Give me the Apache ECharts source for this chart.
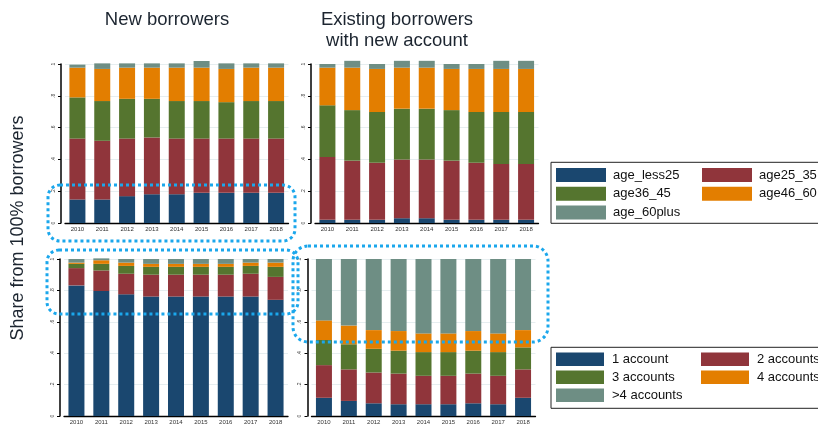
<!DOCTYPE html>
<html>
<head>
<meta charset="utf-8">
<script src="https://cdn.jsdelivr.net/npm/echarts@6/dist/echarts.min.js"></script>
<style>
html,body{margin:0;padding:0;background:#fff;}
#chart{width:818px;height:425px;}
</style>
</head>
<body>
<div id="chart"></div>
<script>
// ---------- data ----------
const years = ['2010','2011','2012','2013','2014','2015','2016','2017','2018'];
const yTickLabels = ['0', '.2', '.4', '.6', '.8', '1'];

const ageNames = ['age_less25','age25_35','age36_45','age46_60','age_60plus'];
const accNames = ['1 account','2 accounts','3 accounts','4 accounts','>4 accounts'];

// New borrowers, by age
const newAgeLess25 = [0.148,0.148,0.169,0.181,0.181,0.190,0.190,0.190,0.190];
const newAge25_35  = [0.383,0.369,0.362,0.357,0.350,0.341,0.341,0.341,0.341];
const newAge36_45  = [0.259,0.250,0.250,0.243,0.236,0.236,0.229,0.236,0.236];
const newAge46_60  = [0.187,0.202,0.196,0.196,0.210,0.210,0.209,0.210,0.210];
const newAge60plus = [0.019,0.035,0.027,0.027,0.027,0.042,0.035,0.027,0.027];

// Existing borrowers with new account, by age
const exAgeLess25 = [0.020,0.020,0.020,0.030,0.030,0.020,0.020,0.020,0.020];
const exAge25_35  = [0.395,0.372,0.359,0.370,0.370,0.372,0.359,0.351,0.351];
const exAge36_45  = [0.325,0.318,0.319,0.319,0.319,0.318,0.319,0.327,0.327];
const exAge46_60  = [0.237,0.267,0.271,0.258,0.258,0.259,0.271,0.271,0.271];
const exAge60plus = [0.023,0.043,0.031,0.043,0.043,0.031,0.031,0.051,0.051];

// New borrowers, by number of accounts
const newAcc1     = [0.832,0.796,0.775,0.761,0.761,0.761,0.761,0.761,0.740];
const newAcc2     = [0.110,0.131,0.131,0.139,0.139,0.139,0.139,0.145,0.146];
const newAcc3     = [0.027,0.042,0.050,0.050,0.050,0.050,0.050,0.050,0.064];
const newAcc4     = [0.008,0.023,0.021,0.019,0.019,0.019,0.019,0.021,0.027];
const newAccMore4 = [0.023,0.012,0.023,0.031,0.031,0.031,0.031,0.023,0.023];

// Existing borrowers with new account, by number of accounts
const exAcc1     = [0.116,0.096,0.081,0.075,0.075,0.075,0.081,0.075,0.116];
const exAcc2     = [0.208,0.201,0.196,0.195,0.181,0.181,0.189,0.181,0.181];
const exAcc3     = [0.160,0.160,0.151,0.146,0.151,0.151,0.146,0.151,0.140];
const exAcc4     = [0.125,0.119,0.119,0.125,0.119,0.119,0.125,0.119,0.110];
const exAccMore4 = [0.391,0.424,0.453,0.459,0.474,0.474,0.459,0.474,0.453];

// ---------- styling ----------
const colors = ['#1a476f','#90353b','#55752f','#e37e00','#6e8e84'];
const FONT = "'Liberation Sans', Arial, sans-serif";

const panels = [
  {left:65,  width:223.5, top:64,  height:159, names:ageNames, data:[newAgeLess25,newAge25_35,newAge36_45,newAge46_60,newAge60plus]},
  {left:315, width:223.5, top:64,  height:159, names:ageNames, data:[exAgeLess25,exAge25_35,exAge36_45,exAge46_60,exAge60plus]},
  {left:64,  width:224,   top:259, height:160, names:accNames, data:[newAcc1,newAcc2,newAcc3,newAcc4,newAccMore4]},
  {left:311.5,width:224,  top:259, height:160, names:accNames, data:[exAcc1,exAcc2,exAcc3,exAcc4,exAccMore4]}
];

const grid = [], xAxis = [], yAxis = [], series = [];
panels.forEach((p, i) => {
  grid.push({left:p.left, top:p.top, width:p.width, height:p.height, containLabel:false});
  xAxis.push({
    type:'category', gridIndex:i, data:years,
    axisLine:{show:true, lineStyle:{color:'#000', width:1.3}},
    axisTick:{show:false},
    axisLabel:{fontSize:6, color:'#333', margin:3, fontFamily:FONT, interval:0}
  });
  yAxis.push({
    type:'value', gridIndex:i, min:0, max:1, interval:0.2, offset:4,
    axisLine:{show:true, lineStyle:{color:'#000', width:1.5}},
    axisTick:{show:true, length:3, lineStyle:{color:'#000', width:1}},
    axisLabel:{fontSize:5, color:'#444', rotate:90, margin:5, fontFamily:FONT,
      formatter: v => yTickLabels[Math.round(v / 0.2)]},
    splitLine:{show:true, lineStyle:{color:'#e6eef0', width:1}}
  });
  p.names.forEach((n, k) => {
    series.push({
      type:'bar', name:n, stack:'s' + i, xAxisIndex:i, yAxisIndex:i,
      data:p.data[k], barWidth:16, clip:false,
      itemStyle:{color:colors[k]}, emphasis:{disabled:true}
    });
  });
});

const legendBase = {orient:'vertical', icon:'rect', padding:0, selectedMode:false,
  textStyle:{fontSize:13, color:'#111', fontFamily:FONT}};
const legend = [
  Object.assign({}, legendBase, {left:556, top:168, itemWidth:50, itemHeight:14, itemGap:4.75,
    data:['age_less25','age36_45','age_60plus'], textStyle:Object.assign({}, legendBase.textStyle, {padding:[0,0,0,2], lineHeight:14})}),
  Object.assign({}, legendBase, {left:702, top:168, itemWidth:50, itemHeight:14, itemGap:4.75,
    data:['age25_35','age46_60'], textStyle:Object.assign({}, legendBase.textStyle, {padding:[0,0,0,2], lineHeight:14})}),
  Object.assign({}, legendBase, {left:556, top:352.5, itemWidth:48, itemHeight:13.5, itemGap:4.5,
    data:['1 account','3 accounts','>4 accounts'], textStyle:Object.assign({}, legendBase.textStyle, {padding:[0,0,0,3], lineHeight:13.5})}),
  Object.assign({}, legendBase, {left:701, top:352.5, itemWidth:48, itemHeight:13.5, itemGap:4.5,
    data:['2 accounts','4 accounts'], textStyle:Object.assign({}, legendBase.textStyle, {padding:[0,0,0,3], lineHeight:13.5})})
];

const dotStyle = {fill:'none', stroke:'#1ba7ec', lineWidth:3, lineDash:[3,3]};
const graphic = [
  {type:'text', x:167, y:20, z:10, style:{text:'New borrowers', fontSize:18.5, fontFamily:FONT, fill:'#1c2530', align:'center', verticalAlign:'middle'}},
  {type:'text', x:397, y:20, z:10, style:{text:'Existing borrowers', fontSize:18.5, fontFamily:FONT, fill:'#1c2530', align:'center', verticalAlign:'middle'}},
  {type:'text', x:397, y:40.5, z:10, style:{text:'with new account', fontSize:18.5, fontFamily:FONT, fill:'#1c2530', align:'center', verticalAlign:'middle'}},
  {type:'text', x:18, y:228, rotation:Math.PI/2, z:10, style:{text:'Share from 100% borrowers', fontSize:18, fontFamily:FONT, fill:'#1c2530', align:'center', verticalAlign:'middle'}},
  {type:'rect', z:5, shape:{x:551, y:162.3, width:290, height:61}, style:{fill:'none', stroke:'#222', lineWidth:1}},
  {type:'rect', z:5, shape:{x:551, y:347.3, width:290, height:61}, style:{fill:'none', stroke:'#222', lineWidth:1}},
  {type:'rect', z:20, shape:{x:48, y:185, width:247, height:56, r:12}, style:dotStyle},
  {type:'rect', z:20, shape:{x:47, y:250, width:251, height:64, r:12}, style:dotStyle},
  {type:'rect', z:20, shape:{x:293, y:246, width:255, height:96, r:15}, style:dotStyle}
];

const chart = echarts.init(document.getElementById('chart'), null, {renderer:'canvas'});
chart.setOption({
  animation:false,
  backgroundColor:'#fff',
  grid, xAxis, yAxis, series, legend, graphic
});
</script>
</body>
</html>
